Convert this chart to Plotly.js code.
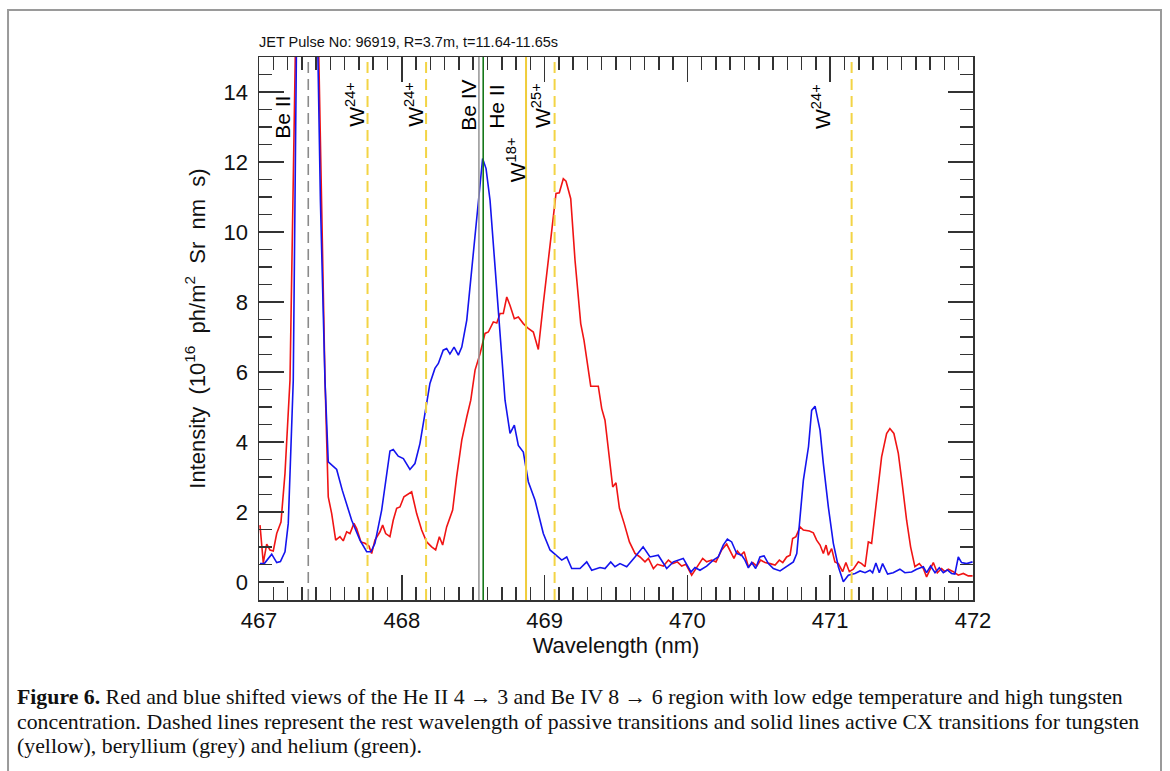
<!DOCTYPE html>
<html>
<head>
<meta charset="utf-8">
<script src="https://cdn.plot.ly/plotly-3.0.1.min.js"></script>
<style>
html,body{margin:0;padding:0;background:#fff;}
#chart{width:1170px;height:771px;}
</style>
</head>
<body>
<div id="chart"></div>
<script>
// ---- data (wavelength in nm, intensity in 1e16 ph/m^2 Sr nm s) ----
const redX = [467.007,467.030,467.054,467.077,467.100,467.124,467.154,467.182,467.217,467.236,467.260,467.300,467.350,467.400,467.440,467.462,467.485,467.509,467.537,467.567,467.590,467.614,467.637,467.665,467.684,467.714,467.742,467.770,467.789,467.812,467.847,467.866,467.887,467.917,467.940,467.964,467.987,468.015,468.069,468.104,468.139,468.174,468.209,468.237,468.263,468.286,468.314,468.356,468.384,468.420,468.455,468.483,468.513,468.548,468.583,468.606,468.641,468.665,468.688,468.711,468.735,468.758,468.788,468.816,468.851,468.886,468.921,468.956,468.991,469.026,469.057,469.080,469.103,469.131,469.150,469.183,469.213,469.236,469.253,469.276,469.300,469.323,469.376,469.400,469.423,469.446,469.477,469.500,469.524,469.557,469.594,469.633,469.668,469.703,469.727,469.762,469.790,469.832,469.867,469.897,469.930,469.960,469.990,470.030,470.053,470.076,470.107,470.135,470.170,470.200,470.240,470.275,470.298,470.326,470.350,470.374,470.397,470.427,470.458,470.486,470.513,470.544,470.579,470.614,470.644,470.668,470.695,470.719,470.737,470.760,470.789,470.812,470.854,470.882,470.905,470.929,470.952,470.971,470.987,471.010,471.033,471.057,471.087,471.110,471.134,471.162,471.197,471.220,471.244,471.267,471.290,471.325,471.360,471.395,471.418,471.446,471.477,471.507,471.535,471.563,471.593,471.624,471.652,471.675,471.698,471.722,471.750,471.780,471.803,471.827,471.862,471.897,471.932,471.967,471.997];
const redY = [1.62,0.54,1.08,0.91,0.88,1.38,1.71,3.10,5.76,10.9,16.5,24.0,25.0,19.0,10.0,5.8,2.43,1.95,1.19,1.29,1.17,1.43,1.38,1.67,1.52,1.14,1.10,1.02,0.81,1.19,1.43,1.62,1.38,1.29,1.76,2.10,2.14,2.43,2.57,1.95,1.48,1.14,1.00,0.91,1.29,1.05,1.57,2.05,3.00,4.05,4.71,5.19,6.05,6.52,7.10,7.14,7.43,7.40,7.67,7.67,8.14,7.90,7.52,7.57,7.38,7.24,7.14,6.64,7.95,9.19,10.14,11.10,11.12,11.52,11.45,10.95,9.19,8.24,7.38,6.90,6.24,5.59,5.59,4.95,4.62,3.76,2.71,2.83,2.10,1.67,1.14,0.81,0.71,0.57,0.67,0.38,0.50,0.45,0.62,0.52,0.57,0.45,0.50,0.19,0.33,0.48,0.67,0.57,0.62,0.57,0.91,1.08,0.91,0.67,0.88,0.76,0.86,0.43,0.55,0.45,0.62,0.55,0.52,0.48,0.62,0.55,0.71,0.76,1.24,1.29,1.57,1.48,1.45,1.40,1.19,1.05,0.81,1.05,0.76,0.95,0.57,0.52,0.29,0.55,0.29,0.36,0.57,0.52,0.43,1.14,1.10,2.43,3.57,4.24,4.38,4.24,3.67,2.71,1.76,1.00,0.43,0.52,0.38,0.14,0.33,0.55,0.26,0.38,0.29,0.36,0.29,0.19,0.24,0.17,0.17];

const blueX = [467.007,467.037,467.089,467.124,467.150,467.182,467.205,467.240,467.264,467.300,467.350,467.400,467.430,467.462,467.485,467.544,467.583,467.649,467.707,467.754,467.784,467.812,467.859,467.917,467.940,467.975,468.011,468.057,468.092,468.127,468.162,468.197,468.232,468.256,468.290,468.314,468.337,468.366,468.396,468.420,468.455,468.490,468.536,468.566,468.590,468.618,468.653,468.688,468.723,468.758,468.788,468.816,468.851,468.886,468.933,468.991,469.038,469.120,469.155,469.190,469.248,469.295,469.330,469.388,469.423,469.463,469.493,469.528,469.575,469.633,469.690,469.738,469.796,469.855,469.901,469.971,470.025,470.053,470.088,470.135,470.181,470.216,470.251,470.280,470.310,470.345,470.380,470.403,470.427,470.450,470.478,470.508,470.537,470.567,470.602,470.649,470.695,470.742,470.766,470.789,470.812,470.848,470.870,470.894,470.929,470.952,470.987,471.022,471.057,471.092,471.127,471.174,471.209,471.244,471.279,471.297,471.320,471.344,471.367,471.402,471.441,471.488,471.523,471.570,471.605,471.652,471.675,471.703,471.734,471.764,471.792,471.820,471.850,471.873,471.897,471.920,471.955,471.997];
const blueY = [0.52,0.52,0.79,0.55,0.58,0.86,1.67,5.76,16.0,23.0,24.0,18.0,10.9,5.76,3.43,3.21,2.62,1.76,1.19,0.86,0.86,1.10,2.05,3.74,3.78,3.59,3.52,3.21,3.38,3.95,4.81,5.67,6.10,6.24,6.62,6.67,6.51,6.71,6.48,6.71,7.48,9.00,10.90,12.10,11.81,10.90,9.00,7.10,5.19,4.24,4.48,3.90,3.71,2.86,2.33,1.38,0.91,0.62,0.71,0.38,0.38,0.57,0.33,0.41,0.38,0.57,0.43,0.52,0.43,0.71,1.00,0.71,0.76,0.38,0.57,0.67,0.28,0.41,0.33,0.45,0.62,0.71,1.05,1.22,1.14,0.81,0.76,0.62,0.40,0.55,0.38,0.71,0.74,0.52,0.38,0.31,0.43,0.57,0.81,1.76,2.90,3.86,4.90,5.02,4.33,3.38,2.14,1.10,0.43,0.00,0.19,0.24,0.31,0.26,0.33,0.26,0.54,0.26,0.52,0.22,0.26,0.36,0.26,0.28,0.36,0.43,0.26,0.45,0.26,0.40,0.26,0.34,0.24,0.22,0.71,0.55,0.52,0.57];

// reference transition wavelengths (nm)
const passiveW = [467.76, 468.17, 469.07, 471.15];   // tungsten, dashed yellow
const activeW = [468.87];                            // tungsten, solid yellow
const passiveBe = [467.345];                         // beryllium, dashed grey
const activeBe = [468.54];                           // beryllium, solid grey
const activeHe = [468.57];                           // helium, solid green

const lineLabels = ['Be II','W<sup>24+</sup>','W<sup>24+</sup>','Be IV','He II','W<sup>18+</sup>','W<sup>25+</sup>','W<sup>24+</sup>'];
const xTickVals = [467,468,469,470,471,472];
const yTickVals = [0,2,4,6,8,10,12,14];

const titleText = 'JET Pulse No: 96919, R=3.7m, t=11.64-11.65s';
const xTitle = 'Wavelength (nm)';
const NB = '\u00a0';
const yTitle = 'Intensity' + NB + ' (10<sup>16</sup>' + NB + ' ph/m<sup>2</sup>' + NB + ' Sr' + NB + ' nm' + NB + ' s)';
const captionLines = [
  '<b>Figure 6.</b> Red and blue shifted views of the He II 4 \u2192 3 and Be IV 8 \u2192 6 region with low edge temperature and high tungsten',
  'concentration. Dashed lines represent the rest wavelength of passive transitions and solid lines active CX transitions for tungsten',
  '(yellow), beryllium (grey) and helium (green).'
];

// ---- build ----
const SANS = 'Liberation Sans, Arial, Helvetica, sans-serif';
const traces = [
  {x: redX, y: redY, type: 'scatter', mode: 'lines', line: {color: '#f01414', width: 1.6}, hoverinfo: 'skip'},
  {x: blueX, y: blueY, type: 'scatter', mode: 'lines', line: {color: '#1414ee', width: 1.6}, hoverinfo: 'skip'}
];

function vline(x, color, dash, width) {
  return {type: 'line', xref: 'x', yref: 'paper', x0: x, x1: x, y0: 0, y1: 1,
          line: {color: color, width: width, dash: dash}, layer: 'above'};
}
const shapes = [];
passiveBe.forEach(w => shapes.push(vline(w, '#8a8a8a', '11px,6px', 1.6)));
passiveW.forEach(w => shapes.push(vline(w, '#f3d445', '11px,6px', 2)));
activeW.forEach(w => shapes.push(vline(w, '#f0cd3a', 'solid', 2)));
activeBe.forEach(w => shapes.push(vline(w, '#9a9a9a', 'solid', 1.6)));
activeHe.forEach(w => shapes.push(vline(w, '#16781a', 'solid', 1.6)));
// figure frame
shapes.push({type: 'rect', xref: 'paper', yref: 'paper', x0: -0.3515, x1: 1.2633, y0: -0.34, y1: 1.0866,
             line: {color: '#9a9a9a', width: 2}, fillcolor: 'rgba(0,0,0,0)', layer: 'above'});

const labelPos = [
  [467.168, 13.29], [467.672, 13.66], [468.085, 13.66], [468.467, 13.62],
  [468.663, 13.59], [468.800, 12.05], [468.980, 13.62], [470.940, 13.59]
];
const annotations = lineLabels.map((t, i) => ({
  x: labelPos[i][0], y: labelPos[i][1], xref: 'x', yref: 'y', text: t, showarrow: false,
  textangle: -90, xanchor: 'center', yanchor: 'middle',
  font: {family: SANS, size: 21, color: '#000'}
}));
const captionY = [-0.1786, -0.2247, -0.2689];
captionLines.forEach((t, i) => annotations.push({
  xref: 'paper', yref: 'paper', x: -0.3417, y: captionY[i], xanchor: 'left', yanchor: 'middle', align: 'left',
  showarrow: false, text: t,
  font: {family: 'Liberation Serif, Times New Roman, serif', size: 21.8, color: '#111'}
}));

const axisCommon = {
  showgrid: false, zeroline: false, showline: true, linecolor: '#333', linewidth: 1.5,
  mirror: 'ticks', ticks: 'inside', ticklen: 25, tickwidth: 1.5, tickcolor: '#333',
  tickfont: {family: SANS, size: 22, color: '#111'}
};

const layout = {
  width: 1170, height: 771,
  margin: {l: 259, r: 197, t: 57, b: 171},
  paper_bgcolor: '#fff', plot_bgcolor: '#fff',
  showlegend: false,
  title: {text: titleText, xref: 'paper', x: 0, xanchor: 'left', yref: 'container', y: 0.9455, yanchor: 'middle',
          font: {family: SANS, size: 14.5, color: '#111'}},
  xaxis: Object.assign({}, axisCommon, {
    range: [467, 472], tickvals: xTickVals, ticktext: xTickVals.map(String), tickangle: 0,
    minor: {dtick: 0.1, tick0: 467, ticklen: 13, tickwidth: 1.5, tickcolor: '#333', ticks: 'inside'},
    title: {text: xTitle, standoff: 0, font: {family: SANS, size: 22, color: '#111'}}
  }),
  yaxis: Object.assign({}, axisCommon, {
    range: [-0.52, 15], tickmode: 'array', tickvals: yTickVals, ticktext: yTickVals.map(String),
    tickangle: 0, ticklabelstandoff: 5,
    minor: {dtick: 0.5, tick0: 0, ticklen: 13, tickwidth: 1.5, tickcolor: '#333', ticks: 'inside'},
    title: {text: yTitle, standoff: 12, font: {family: SANS, size: 22, color: '#111'}}
  }),
  shapes: shapes,
  annotations: annotations
};

Plotly.newPlot('chart', traces, layout, {displayModeBar: false, staticPlot: true});
</script>
</body>
</html>
